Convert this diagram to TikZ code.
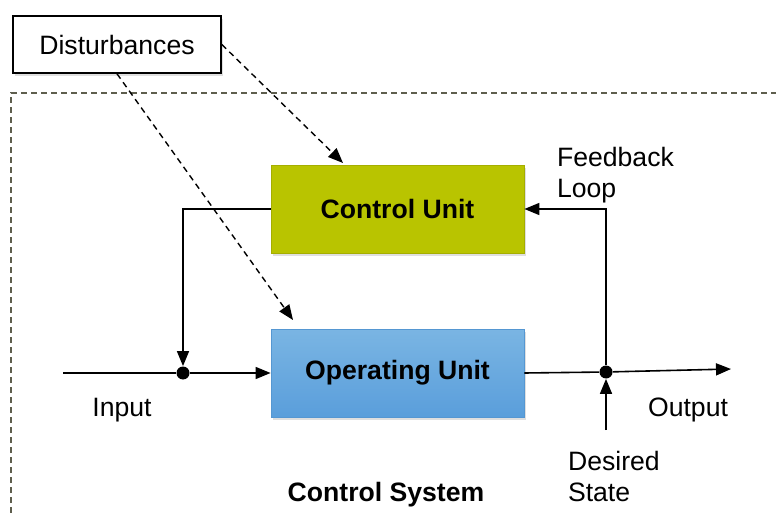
\documentclass[tikz,border=0pt]{standalone}
\usepackage{fontspec}
\setmainfont{Liberation Sans}
\usetikzlibrary{arrows,arrows.meta}
\usetikzlibrary{positioning}
\usetikzlibrary{calc}
\usetikzlibrary{shadows}
\definecolor{ctrlfill}{HTML}{B9C400}
\definecolor{ctrldraw}{HTML}{A5AE00}
\definecolor{optop}{HTML}{7AB5E3}
\definecolor{opbot}{HTML}{5A9EDB}
\definecolor{opdraw}{HTML}{5597D2}
\definecolor{bound}{HTML}{5E5E4E}

\begin{document}
\begin{tikzpicture}[x=0.5pt,y=-0.5pt,>={Triangle[length=7.5pt,width=6pt]}]
				\tikzset{unit/.style = {shape=rectangle, minimum width=126.5pt, minimum height=44pt, inner sep=0pt, font=\fontsize{13.3}{16}\selectfont\bfseries, drop shadow={shadow xshift=1pt, shadow yshift=-1.5pt, opacity=0.25}},
					txt/.style = {font=\fontsize{13.3}{15.5}\selectfont, align=left},
					dot/.style = {circle, fill, inner sep=0pt, minimum size=6.5pt},
					wire/.style = {line width=0.8pt},
					dist/.style = {dash pattern=on 3pt off 2.2pt, line width=0.7pt}}
				\useasboundingbox (0,0) rectangle (776,513);
				% system boundary
				\draw[bound, line width=0.8pt, dash pattern=on 3pt off 2pt] (11,513) |- (776,93);
				
				\node[draw, line width=0.8pt, fill=white, minimum width=104pt, minimum height=28.5pt, txt, drop shadow={shadow xshift=1pt, shadow yshift=-1.5pt, opacity=0.25}] (DIST) at (117,44.5) {Disturbances};
				\node[unit, fill=ctrlfill, draw=ctrldraw] (CTRL) at (397.5,209) {Control Unit};
				\node[unit, top color=optop, bottom color=opbot, draw=opdraw] (OP) at (397.5,373) {Operating Unit};
				
				\node[dot] (JIN) at (183,373) {};
				\node[dot] (JOUT) at (606,372) {};
				\coordinate (IN) at (63,373);
				\coordinate (OUT) at (731,369);
				\coordinate (DES) at (606,430);
				\coordinate (HITC) at (343,163);
				\coordinate (HITO) at (293,320);
				
				\draw[->, dist] (DIST.east) -- (HITC);
				\draw[->, dist] (DIST.south) -- (HITO);
				
				\draw[->, wire] (CTRL.west) -| (JIN);
				\draw[wire] (IN) -- (JIN);
				\draw[->, wire] (JIN) -- (OP.west);
				\draw[wire] (OP.east) -- (JOUT);
				\draw[->, wire] (JOUT) -- (OUT);
				\draw[->, wire] (JOUT) |- (CTRL.east);
				\draw[->, wire] (DES) -- (JOUT);
				
				\node[txt] (INL) at (122,410) {Input};
				\node[txt] (OUTL) at (688,410) {Output};
				\node[txt, anchor=west] (FBL) at (550,175) {Feedback\\Loop};
				\node[txt, anchor=west] (DESL) at (561,476) {Desired\\State};
				\node[txt, font=\fontsize{13.3}{16}\selectfont\bfseries] (SYS) at (386,495) {Control System};
				
				\end{tikzpicture}
\end{document}
